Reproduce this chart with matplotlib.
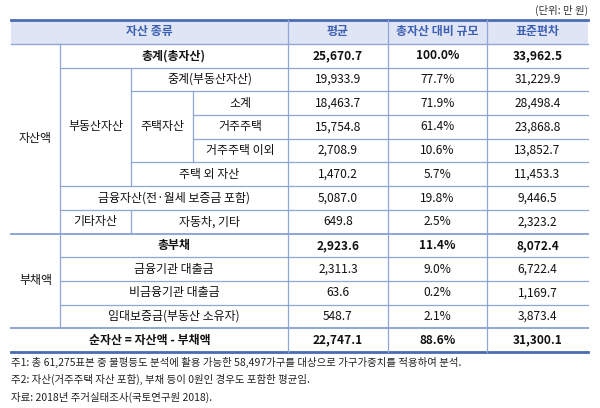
import matplotlib
matplotlib.use("Agg")
import matplotlib.pyplot as plt
from matplotlib.patches import Rectangle

plt.rcParams["font.family"] = ["Noto Sans CJK KR", "Noto Sans CJK JP", "Noto Sans CJK SC", "DejaVu Sans"]

headers = ["자산 종류", "평균", "총자산 대비 규모", "표준편차"]
means = ["25,670.7", "19,933.9", "18,463.7", "15,754.8", "2,708.9", "1,470.2", "5,087.0", "649.8",
         "2,923.6", "2,311.3", "63.6", "548.7", "22,747.1"]
shares = ["100.0%", "77.7%", "71.9%", "61.4%", "10.6%", "5.7%", "19.8%", "2.5%",
          "11.4%", "9.0%", "0.2%", "2.1%", "88.6%"]
sds = ["33,962.5", "31,229.9", "28,498.4", "23,868.8", "13,852.7", "11,453.3", "9,446.5", "2,323.2",
       "8,072.4", "6,722.4", "1,169.7", "3,873.4", "31,300.1"]
bold_rows = [0, 8, 12]
notes = ["주1: 총 61,275표본 중 불평등도 분석에 활용 가능한 58,497가구를 대상으로 가구가중치를 적용하여 분석.",
         "주2: 자산(거주주택 자산 포함), 부채 등이 0원인 경우도 포함한 평균임.",
         "자료: 2018년 주거실태조사(국토연구원 2018)."]
unit = "(단위: 만 원)"

label_cells = [
    ("자산액", 0, 1, 0, 8, False),
    ("총계(총자산)", 1, 4, 0, 1, True),
    ("부동산자산", 1, 2, 1, 6, False),
    ("중계(부동산자산)", 2, 4, 1, 2, False),
    ("주택자산", 2, 3, 2, 5, False),
    ("소계", 3, 4, 2, 3, False),
    ("거주주택", 3, 4, 3, 4, False),
    ("거주주택 이외", 3, 4, 4, 5, False),
    ("주택 외 자산", 2, 4, 5, 6, False),
    ("금융자산(전·월세 보증금 포함)", 1, 4, 6, 7, False),
    ("기타자산", 1, 2, 7, 8, False),
    ("자동차, 기타", 2, 4, 7, 8, False),
    ("부채액", 0, 1, 8, 12, False),
    ("총부채", 1, 4, 8, 9, True),
    ("금융기관 대출금", 1, 4, 9, 10, False),
    ("비금융기관 대출금", 1, 4, 10, 11, False),
    ("임대보증금(부동산 소유자)", 1, 4, 11, 12, False),
    ("순자산 = 자산액 - 부채액", 0, 4, 12, 13, True),
]

X = [11, 60, 131, 193, 288, 388, 487, 588]
top, hb = 20, 44
rh = (352 - 44) / 13
Y = [hb + i * rh for i in range(14)]
lc = "#8fa6d8"
dark = "#4a6cb5"

fig = plt.figure(figsize=(6, 4.08), dpi=100)
ax = fig.add_axes([0, 0, 1, 1])
ax.set_xlim(0, 600)
ax.set_ylim(408, 0)
ax.axis("off")
fs = 8.6

ax.add_patch(Rectangle((X[0], top), X[-1] - X[0], hb - top, color="#dfe5f4", lw=0))
hx = [(X[0] + X[4]) / 2, (X[4] + X[5]) / 2, (X[5] + X[6]) / 2, (X[6] + X[7]) / 2]
for h, x in zip(headers, hx):
    ax.text(x, (top + hb) / 2, h, ha="center", va="center", fontsize=fs, color="#3d5fb3", fontweight="bold")
ax.text(588, 10, unit, ha="right", va="center", fontsize=7.5, color="#333")

for text, c0, c1, r0, r1, b in label_cells:
    ax.text((X[c0] + X[c1]) / 2, (Y[r0] + Y[r1]) / 2, text, ha="center", va="center",
            fontsize=fs, fontweight="bold" if b else "normal", color="#111")

for i in range(13):
    w = "bold" if i in bold_rows else "normal"
    yc = (Y[i] + Y[i + 1]) / 2
    for col, v in zip(range(3), (means, shares, sds)):
        ax.text(hx[col + 1], yc, v[i], ha="center", va="center", fontsize=fs, fontweight=w, color="#111")

hl = {1: 1, 2: 2, 3: 3, 4: 3, 5: 2, 6: 1, 7: 1, 8: 0, 9: 1, 10: 1, 11: 1, 12: 0}
ax.plot([X[0], X[-1]], [hb, hb], color=lc, lw=1)
for r, c in hl.items():
    ax.plot([X[c], X[-1]], [Y[r], Y[r]], color=lc, lw=1.4 if r in (8, 12) else 0.9)
ax.plot([X[0], X[-1]], [top, top], color=dark, lw=2)
ax.plot([X[0], X[-1]], [Y[13], Y[13]], color=dark, lw=2)
ax.plot([X[1]] * 2, [Y[0], Y[12]], color=lc, lw=0.9)
ax.plot([X[2]] * 2, [Y[1], Y[6]], color=lc, lw=0.9)
ax.plot([X[2]] * 2, [Y[7], Y[8]], color=lc, lw=0.9)
ax.plot([X[3]] * 2, [Y[2], Y[5]], color=lc, lw=0.9)
for x in X[4:7]:
    ax.plot([x, x], [top, Y[13]], color=lc, lw=0.9)

for i, n in enumerate(notes):
    ax.text(X[0], 362 + i * 17.5, n, ha="left", va="center", fontsize=7.5, color="#222")

fig.savefig("out.png", dpi=100)
